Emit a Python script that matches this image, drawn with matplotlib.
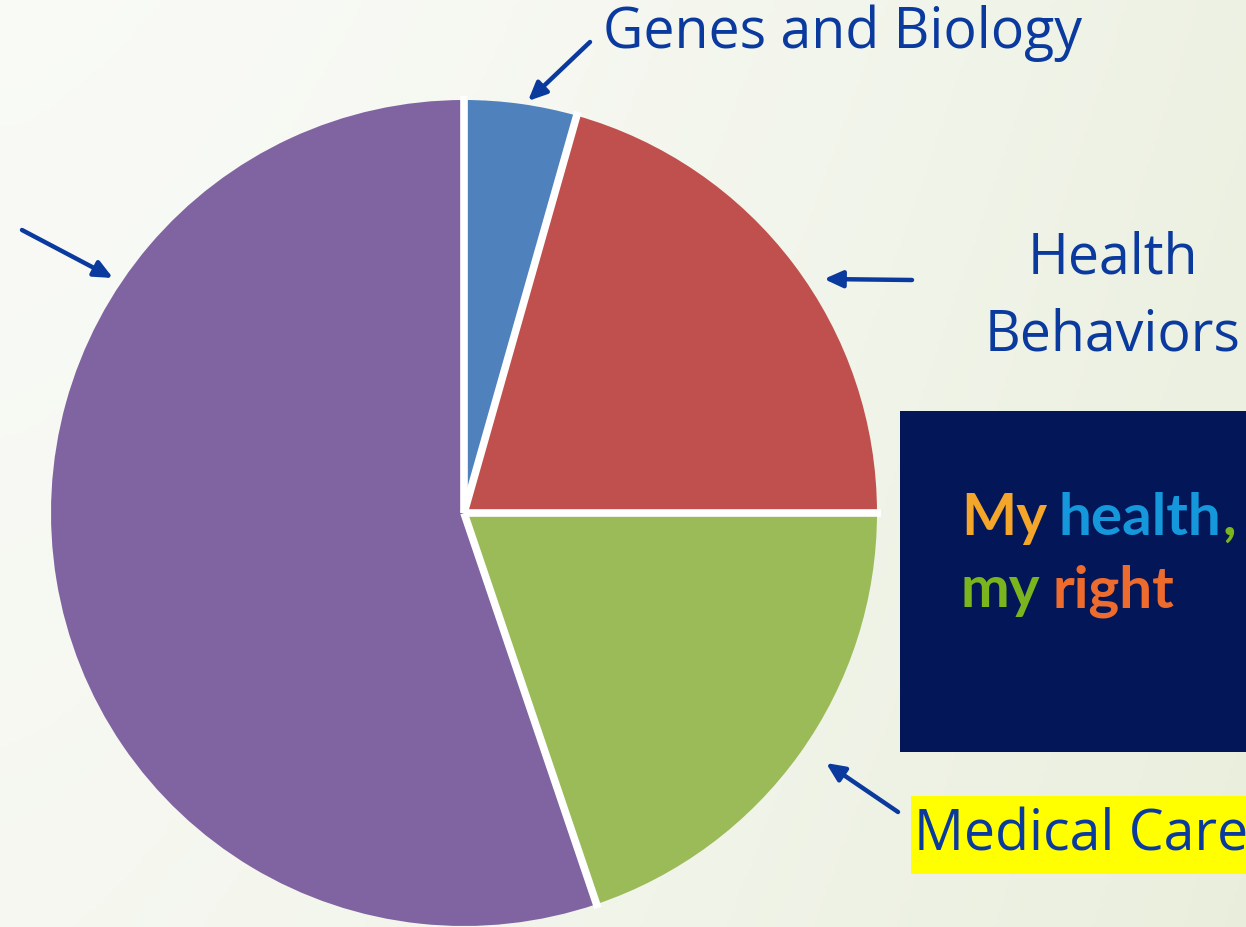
import numpy as np
import matplotlib
matplotlib.use("Agg")
import matplotlib.pyplot as plt
from matplotlib.patches import Rectangle

# ---- data ----
categories = ["Genes and Biology", "Health Behaviors", "Medical Care", "Social & Environmental"]
shares = [4.4, 20.6, 19.8, 55.2]
colors = ["#4F81BD", "#C0504D", "#9BBB59", "#8064A2"]

W, H = 1246, 927
fig = plt.figure(figsize=(W / 100, H / 100), dpi=100)
ax = fig.add_axes([0, 0, 1, 1])

def Y(y):
    return H - y

# background gradient
gx = np.linspace(0, 1, 300)
gy = np.linspace(0, 1, 220)
GX, GY = np.meshgrid(gx, gy)
t = np.clip(0.75 * GX ** 1.5 + 0.25 * (1 - GY), 0, 1)
c0 = np.array([0.978, 0.982, 0.968])
c1 = np.array([0.915, 0.935, 0.865])
img = c0[None, None, :] * (1 - t[..., None]) + c1[None, None, :] * t[..., None]
ax.imshow(img, extent=(0, W, 0, H), origin="lower", zorder=0, aspect="auto")

cx, cy, R = 464, Y(513), 413
wedges, _ = ax.pie(shares, colors=colors, startangle=90, counterclock=False,
                   center=(cx, cy), radius=R,
                   wedgeprops=dict(edgecolor="none", linewidth=0), frame=False)
# white separators between slices (radial edges only)
for w in wedges:
    a = np.deg2rad(w.theta1)
    ax.plot([cx, cx + (R + 4) * np.cos(a)], [cy, cy + (R + 4) * np.sin(a)],
            color="white", lw=5.5, solid_capstyle="butt", zorder=3)

ax.set_xlim(0, W)
ax.set_ylim(0, H)
ax.set_aspect("auto")
ax.axis("off")

txt = "#0B3A9E"
font = "Open Sans"

ax.text(603, Y(33), "Genes and Biology", fontsize=40, color=txt, family=font,
        ha="left", va="center", zorder=5)
ax.text(1113, Y(259), "Health", fontsize=40, color=txt, family=font,
        ha="center", va="center", zorder=5)
ax.text(1113, Y(336), "Behaviors", fontsize=40, color=txt, family=font,
        ha="center", va="center", zorder=5)

ax.add_patch(Rectangle((911, Y(874)), 340, 78, facecolor="#FFFF00", edgecolor="none", zorder=4))
ax.text(914, Y(836), "Medical Care", fontsize=40, color=txt, family=font,
        ha="left", va="center", zorder=5)

# navy box
ax.add_patch(Rectangle((900, Y(752)), 350, 341, facecolor="#031758", edgecolor="none", zorder=4))

fig.canvas.draw()
renderer = fig.canvas.get_renderer()
inv = ax.transData.inverted()

def run(x, y, parts, gap, fs):
    last = None
    for s, col in parts:
        last = ax.text(x, Y(y), s, color=col, fontsize=fs, fontweight="bold",
                       family="Lato", va="baseline", ha="left", zorder=5)
        bb = last.get_window_extent(renderer)
        x = inv.transform((bb.x1, bb.y0))[0] + gap
    return last

h = run(961, 535, [("My", "#F4A62A"), ("health", "#1497DB")], 12, 42)
run(961, 607, [("my", "#7AB51D"), ("right", "#EE6B2E")], 12, 42)
bb = h.get_window_extent(renderer)
xc = inv.transform((bb.x1, bb.y0))[0] + 1
ax.text(xc, Y(535), ",", color="#7AB51D", fontsize=42, fontweight="bold",
        family="Lato", va="baseline", ha="left", zorder=5)

# arrows
arrows = [((590, 42), (528, 101)),
          ((22, 230), (113, 278)),
          ((912, 280), (824, 279)),
          ((898, 812), (826, 763))]
for (x0, y0), (x1, y1) in arrows:
    ax.annotate("", xy=(x1, Y(y1)), xytext=(x0, Y(y0)),
                arrowprops=dict(arrowstyle="-|>,head_length=1.1,head_width=0.5",
                                color="#0B3A9E", lw=3.2, shrinkA=0, shrinkB=0,
                                capstyle="round"),
                zorder=6)

fig.savefig("out.png", dpi=100)
